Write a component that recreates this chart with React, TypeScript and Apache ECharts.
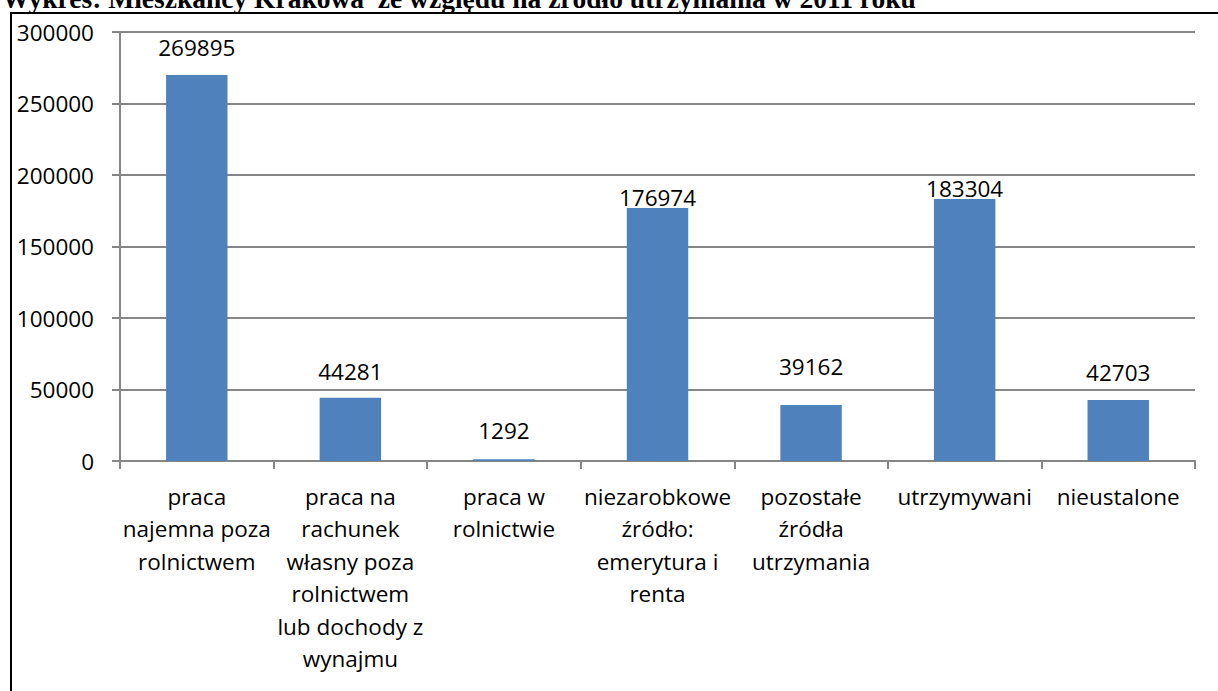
import React, { useEffect, useRef } from "react";
import * as echarts from "echarts";

const TITLE = "Wykres: Mieszkańcy Krakowa  ze względu na źródło utrzymania w 2011 roku";

const categories: string[] = [
  "praca\nnajemna poza\nrolnictwem",
  "praca na\nrachunek\nwłasny poza\nrolnictwem\nlub dochody z\nwynajmu",
  "praca w\nrolnictwie",
  "niezarobkowe\nźródło:\nemerytura i\nrenta",
  "pozostałe\nźródła\nutrzymania",
  "utrzymywani",
  "nieustalone",
];

const values: number[] = [269895, 44281, 1292, 176974, 39162, 183304, 42703];

const yTicks = { min: 0, max: 300000, interval: 50000 };

// label gaps above bars (styling, as placed in the original)
const labelGap: number[] = [16, 15, 17, -1, 27, -1, 16];

const FONT = "Open Sans";
const FS = 22.5;
const GRAY = "#868686";

export default function App() {
  const ref = useRef<HTMLDivElement>(null);

  useEffect(() => {
    if (!ref.current) return;
    const chart = echarts.init(ref.current, null, { renderer: "svg" });
    chart.setOption({
      animation: false,
      backgroundColor: "#ffffff",
      grid: { left: 120, top: 32, right: 23, bottom: 230, containLabel: false },
      graphic: [
        {
          type: "rect",
          shape: { x: 11, y: 13, width: 1400, height: 900 },
          style: { fill: "none", stroke: "#000", lineWidth: 2 },
          silent: true,
        },
        {
          type: "text",
          x: 2,
          y: -1.3,
          style: {
            text: TITLE,
            font: 'bold 27.5px "Liberation Serif"',
            fill: "#000",
            verticalAlign: "middle",
            align: "left",
          },
          silent: true,
        },
      ],
      xAxis: {
        type: "category",
        data: categories,
        boundaryGap: true,
        axisLine: { show: true, lineStyle: { color: GRAY, width: 2 } },
        axisTick: { show: true, length: 8, lineStyle: { color: GRAY, width: 2 } },
        axisLabel: {
          interval: 0,
          margin: 19,
          color: "#000",
          fontFamily: FONT,
          fontSize: FS,
          lineHeight: 32.5,
          align: "center",
          verticalAlign: "top",
        },
        splitLine: { show: false },
      },
      yAxis: {
        type: "value",
        min: yTicks.min,
        max: yTicks.max,
        interval: yTicks.interval,
        axisLine: { show: true, lineStyle: { color: GRAY, width: 2 } },
        axisTick: { show: true, length: 8, lineStyle: { color: GRAY, width: 2 } },
        axisLabel: {
          margin: 26,
          color: "#000",
          fontFamily: FONT,
          fontSize: FS,
          formatter: (v: number) => String(v),
        },
        splitLine: { show: true, lineStyle: { color: GRAY, width: 2 } },
      },
      series: [
        {
          type: "bar",
          barWidth: "40%",
          data: values.map((v, i) => ({
            value: v,
            label: { distance: labelGap[i] },
          })),
          itemStyle: { color: "#4F81BD" },
          label: {
            show: true,
            position: "top",
            color: "#000",
            fontFamily: FONT,
            fontSize: FS,
          },
        },
      ],
    });
    return () => chart.dispose();
  }, []);

  return (
    <div
      ref={ref}
      style={{ position: "absolute", left: 0, top: 0, width: 1218, height: 691 }}
    />
  );
}
